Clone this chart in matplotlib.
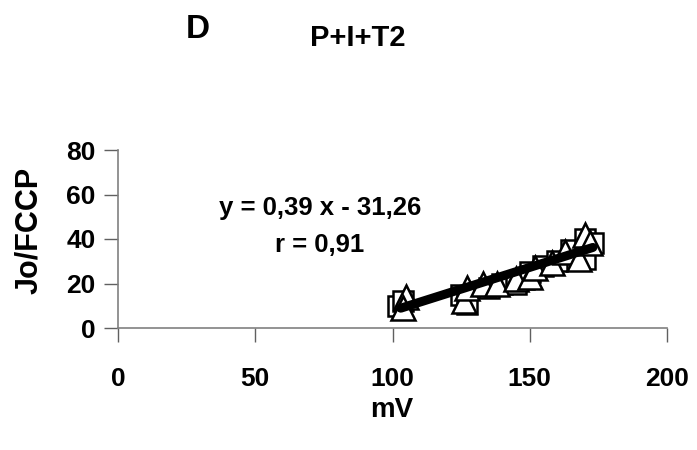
import matplotlib
matplotlib.use("Agg")
import matplotlib.pyplot as plt
import numpy as np

plt.rcParams['font.family'] = ['Liberation Sans', 'DejaVu Sans']
plt.rcParams['font.weight'] = 'bold'

# data
sq_x = [102, 104, 125, 127, 135, 140, 145, 148, 150, 155, 160, 165, 170, 173, 170]
sq_y = [10, 12, 15, 11, 18, 20, 20, 22, 25, 28, 30, 35, 40, 38, 31]
tri_x = [105, 104, 126, 127, 133, 138, 145, 150, 152, 158, 163, 168, 170, 172]
tri_y = [14, 9, 12, 18, 20, 20, 22, 23, 27, 29, 34, 31, 42, 38]
slope, intercept = 0.39, -31.26
fit_x = [103, 173]
x_ticks = [0, 50, 100, 150, 200]
y_ticks = [0, 20, 40, 60, 80]

fig = plt.figure(figsize=(6.97, 4.5), dpi=100)
ax = fig.add_axes([118/697, 1-328/450, (667-118)/697, (328-150)/450])

ax.plot(sq_x, sq_y, linestyle='none', marker='s', markersize=14, markerfacecolor='white',
        markeredgecolor='black', markeredgewidth=1.8)
ax.plot(tri_x, tri_y, linestyle='none', marker='^', markersize=17, markerfacecolor='white',
        markeredgecolor='black', markeredgewidth=1.8)
fx = np.array(fit_x)
ax.plot(fx, slope*fx + intercept, color='black', linewidth=6.5, solid_capstyle='round')

ax.set_xlim(0, 200)
ax.set_ylim(0, 80)
ax.set_xticks(x_ticks)
ax.set_yticks(y_ticks)
for s in ['top', 'right']:
    ax.spines[s].set_visible(False)
for s in ['left', 'bottom']:
    ax.spines[s].set_color('#808080')
    ax.spines[s].set_linewidth(1.2)
ax.tick_params(axis='both', direction='out', length=10, width=1.0, colors='#606060',
               labelcolor='black', labelsize=19)
ax.tick_params(axis='x', pad=18)
ax.tick_params(axis='y', pad=6)
for lab in ax.get_xticklabels() + ax.get_yticklabels():
    lab.set_fontweight('bold')

ax.set_xlabel('mV', fontsize=20, fontweight='bold')
ax.set_ylabel('Jo/FCCP', fontsize=22, fontweight='bold')
ax.xaxis.set_label_coords(0.499, -0.46)
ax.yaxis.set_label_coords(-0.162, 0.55)
ax.xaxis.label.set_va('center')
ax.yaxis.label.set_va('center')

ax.text(73.5, 54, 'y = 0,39 x - 31,26', ha='center', va='center', fontsize=18.5, fontweight='bold')
ax.text(73.5, 37.5, 'r = 0,91', ha='center', va='center', fontsize=18.5, fontweight='bold')

fig.text(198/697, 1-30/450, 'D', ha='center', va='center', fontsize=24, fontweight='bold')
fig.text(358/697, 1-38/450, 'P+I+T2', ha='center', va='center', fontsize=21, fontweight='bold')

fig.savefig('out.png', dpi=100)
